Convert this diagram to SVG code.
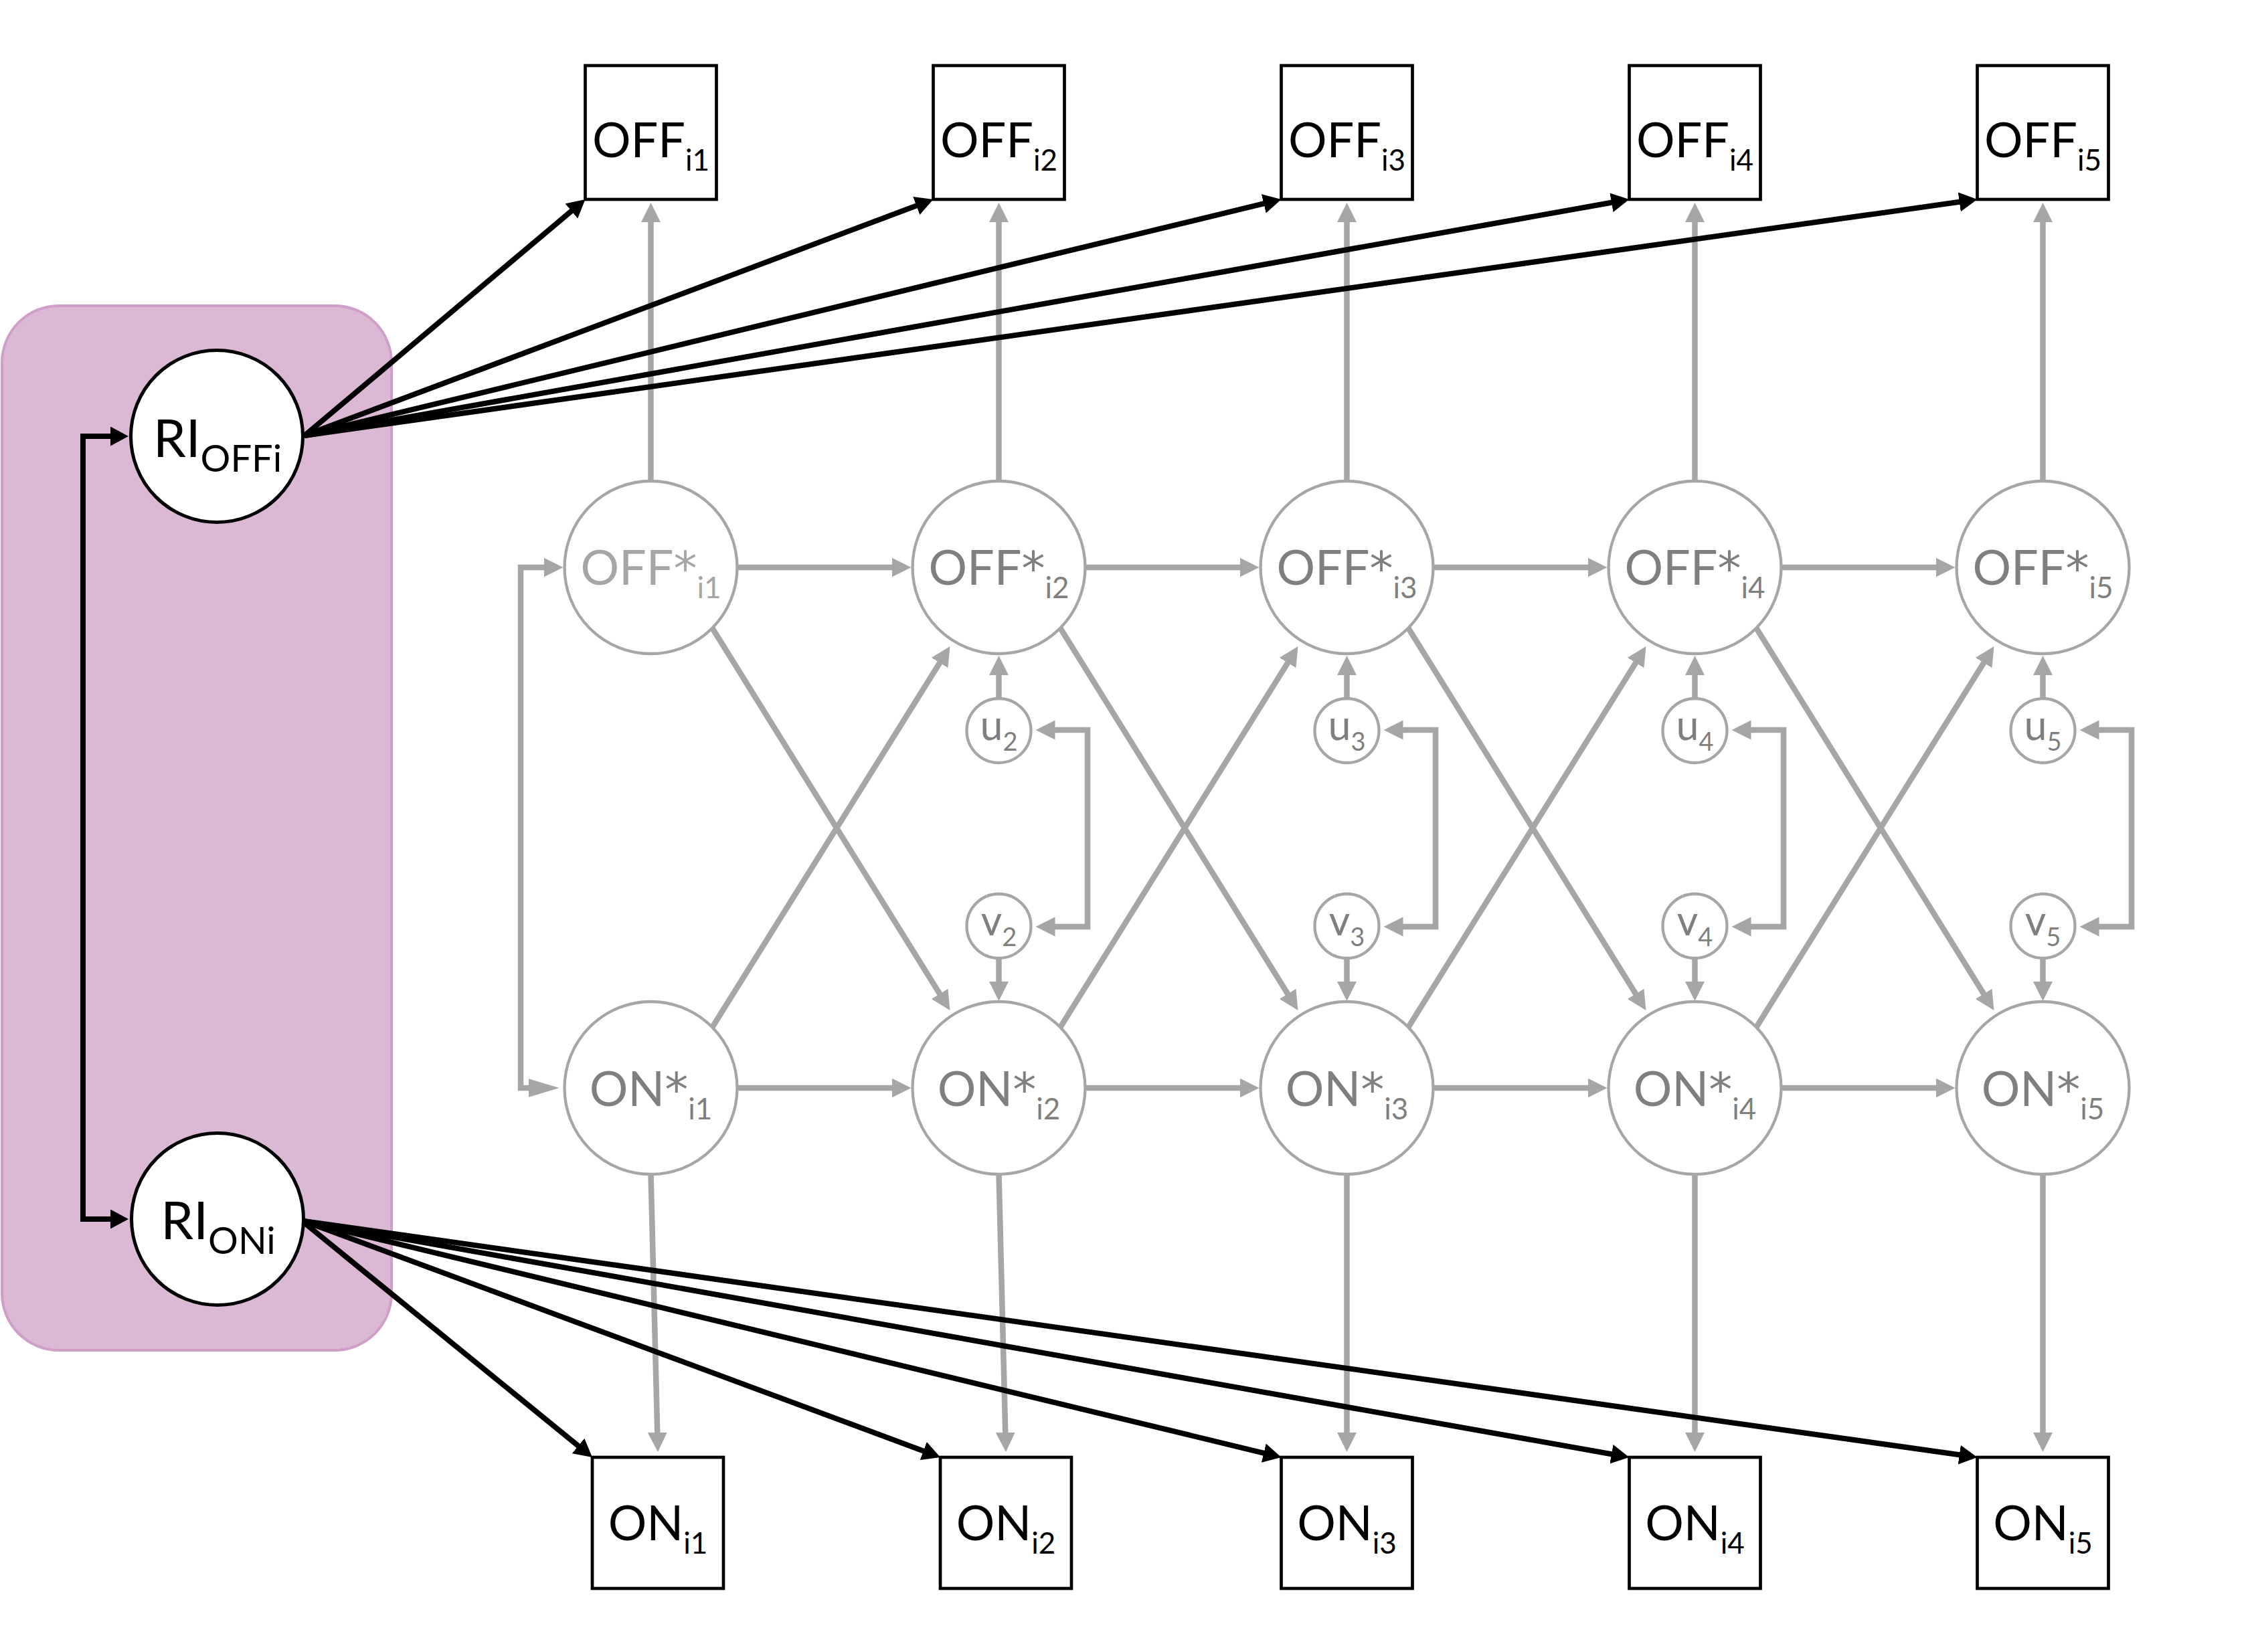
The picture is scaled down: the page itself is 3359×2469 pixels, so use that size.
<svg xmlns="http://www.w3.org/2000/svg" width="3359" height="2469" viewBox="0 0 3359 2469">
<defs>
<style>
text{font-family:Lato,"Open Sans","Liberation Sans",sans-serif;text-anchor:middle}
.lbl{font-size:72px}
.sub{font-size:44px}
.ast{font-family:"DejaVu Sans",sans-serif;font-size:70px}
.ri{font-size:78px}
.risub{font-size:56px}
.uv{font-size:61px}
.uvsub{font-size:38px}
.dark{fill:#000}
.grey{fill:#7f7f7f}
.light{fill:#a6a6a6}
.gc{fill:#fff;stroke:#a6a6a6;stroke-width:4.3}
.bc{fill:#fff;stroke:#000;stroke-width:5}
.box{fill:#fff;stroke:#000;stroke-width:4.7}
.gl{fill:none;stroke:#a6a6a6;stroke-width:8.5;stroke-linejoin:miter;marker-end:url(#ag)}
.gl2{fill:none;stroke:#a6a6a6;stroke-width:8.5;stroke-linejoin:miter;marker-start:url(#ag);marker-end:url(#ag)}
.bl{fill:none;stroke:#000;stroke-width:8;marker-end:url(#ab)}
.bl2{fill:none;stroke:#000;stroke-width:8;stroke-linejoin:miter;marker-start:url(#ab);marker-end:url(#ab)}
</style>
<marker id="ag" markerUnits="userSpaceOnUse" markerWidth="30" markerHeight="30" refX="9" refY="14.5" orient="auto-start-reverse" viewBox="0 0 30 30"><path d="M0,0 L29,14.5 L0,29 Z" fill="#a6a6a6"/></marker>
<marker id="agL" markerUnits="userSpaceOnUse" markerWidth="48" markerHeight="30" refX="26" refY="14" orient="auto-start-reverse" viewBox="0 0 48 30"><path d="M0,0 L46,14 L0,28 Z" fill="#a6a6a6"/></marker>
<marker id="ab" markerUnits="userSpaceOnUse" markerWidth="30" markerHeight="30" refX="7" refY="14.5" orient="auto-start-reverse" viewBox="0 0 30 30"><path d="M0,0 L27,14.5 L0,29 Z" fill="#000"/></marker>
</defs>
<rect width="3359" height="2469" fill="#fff"/>
<g id="ri-group-bg">
<rect x="3" y="457" width="582" height="1561" rx="85" ry="85" fill="#dbb8d3" stroke="#cf9fc8" stroke-width="4"/>
</g>
<g id="connectors">
<path class="gl" d="M972.5,719 V323"/>
<path class="gl" d="M1492.5,719 V323"/>
<path class="gl" d="M2012.5,719 V323"/>
<path class="gl" d="M2532.5,719 V323"/>
<path class="gl" d="M3052.5,719 V323"/>
<path class="gl" d="M972.5,1755 L982.5,2150"/>
<path class="gl" d="M1492.5,1755 L1502.5,2150"/>
<path class="gl" d="M2012.5,1755 V2150"/>
<path class="gl" d="M2532.5,1755 V2150"/>
<path class="gl" d="M3052.5,1755 V2150"/>
<path class="gl" d="M1101.5,848 H1341.5"/>
<path class="gl" d="M1621.5,848 H1861.5"/>
<path class="gl" d="M2141.5,848 H2381.5"/>
<path class="gl" d="M2661.5,848 H2901.5"/>
<path class="gl" d="M1101.5,1626 H1341.5"/>
<path class="gl" d="M1621.5,1626 H1861.5"/>
<path class="gl" d="M2141.5,1626 H2381.5"/>
<path class="gl" d="M2661.5,1626 H2901.5"/>
<path class="gl" d="M778,1237 V848 H821.5"/>
<path d="M778,1237 V1626 H815.5" fill="none" stroke="#a6a6a6" stroke-width="8.5" marker-end="url(#agL)"/>
<path class="gl" d="M1064.5,939 L1408.9,1493"/>
<path class="gl" d="M1584.5,939 L1928.9,1493"/>
<path class="gl" d="M2104.5,939 L2448.9,1493"/>
<path class="gl" d="M2624.5,939 L2968.9,1493"/>
<path class="gl" d="M1064.5,1535 L1408.9,983"/>
<path class="gl" d="M1584.5,1535 L1928.9,983"/>
<path class="gl" d="M2104.5,1535 L2448.9,983"/>
<path class="gl" d="M2624.5,1535 L2968.9,983"/>
<path class="gl" d="M1492.5,1044 V1000"/>
<path class="gl" d="M2012.5,1044 V1000"/>
<path class="gl" d="M2532.5,1044 V1000"/>
<path class="gl" d="M3052.5,1044 V1000"/>
<path class="gl" d="M1492.5,1432 V1476"/>
<path class="gl" d="M2012.5,1432 V1476"/>
<path class="gl" d="M2532.5,1432 V1476"/>
<path class="gl" d="M3052.5,1432 V1476"/>
<path class="gl2" d="M1567.5,1091 H1625 V1385 H1567.5"/>
<path class="gl2" d="M2087.5,1091 H2145 V1385 H2087.5"/>
<path class="gl2" d="M2607.5,1091 H2665 V1385 H2607.5"/>
<path class="gl2" d="M3127.5,1091 H3185 V1385 H3127.5"/>
<path class="bl2" d="M172,652 H124 V1822 H172"/>
<path class="bl" d="M455,651 L859.2,310.9"/>
<path class="bl" d="M455,651 L1375.8,305.0"/>
<path class="bl" d="M455,651 L1895.1,302.7"/>
<path class="bl" d="M455,651 L2414.8,301.5"/>
<path class="bl" d="M455,651 L2934.7,300.8"/>
<path class="bl" d="M454,1827 L869.5,2165.3"/>
<path class="bl" d="M454,1825 L1386.3,2171.0"/>
<path class="bl" d="M454,1825 L1895.1,2173.3"/>
<path class="bl" d="M454,1825 L2414.8,2174.5"/>
<path class="bl" d="M454,1825 L2934.7,2175.2"/>
</g>
<g id="RI_OFFi"><circle class="bc" cx="324" cy="652" r="128.5"/><text class="dark ri" x="325" y="683">RI<tspan class="risub" dy="22">OFFi</tspan></text></g>
<g id="RI_ONi"><circle class="bc" cx="325" cy="1822" r="128.5"/><text class="dark ri" x="326" y="1852">RI<tspan class="risub" dy="22">ONi</tspan></text></g>
<g id="OFF_i1"><rect class="box" x="874.5" y="98" width="196" height="200"/><text class="dark lbl" x="972.5" y="235">OFF<tspan class="sub" dy="20">i1</tspan></text></g>
<g id="OFF_i2"><rect class="box" x="1394.5" y="98" width="196" height="200"/><text class="dark lbl" x="1492.5" y="235">OFF<tspan class="sub" dy="20">i2</tspan></text></g>
<g id="OFF_i3"><rect class="box" x="1914.5" y="98" width="196" height="200"/><text class="dark lbl" x="2012.5" y="235">OFF<tspan class="sub" dy="20">i3</tspan></text></g>
<g id="OFF_i4"><rect class="box" x="2434.5" y="98" width="196" height="200"/><text class="dark lbl" x="2532.5" y="235">OFF<tspan class="sub" dy="20">i4</tspan></text></g>
<g id="OFF_i5"><rect class="box" x="2954.5" y="98" width="196" height="200"/><text class="dark lbl" x="3052.5" y="235">OFF<tspan class="sub" dy="20">i5</tspan></text></g>
<g id="ON_i1"><rect class="box" x="885" y="2178" width="196" height="196"/><text class="dark lbl" x="983" y="2302">ON<tspan class="sub" dy="20">i1</tspan></text></g>
<g id="ON_i2"><rect class="box" x="1405" y="2178" width="196" height="196"/><text class="dark lbl" x="1503" y="2302">ON<tspan class="sub" dy="20">i2</tspan></text></g>
<g id="ON_i3"><rect class="box" x="1914.5" y="2178" width="196" height="196"/><text class="dark lbl" x="2012.5" y="2302">ON<tspan class="sub" dy="20">i3</tspan></text></g>
<g id="ON_i4"><rect class="box" x="2434.5" y="2178" width="196" height="196"/><text class="dark lbl" x="2532.5" y="2302">ON<tspan class="sub" dy="20">i4</tspan></text></g>
<g id="ON_i5"><rect class="box" x="2954.5" y="2178" width="196" height="196"/><text class="dark lbl" x="3052.5" y="2302">ON<tspan class="sub" dy="20">i5</tspan></text></g>
<g id="OFFstar_i1"><circle class="gc" cx="972.5" cy="848" r="129"/><text class="light lbl" x="972.5" y="874">OFF<tspan class="ast">*</tspan><tspan class="sub" dy="20">i1</tspan></text></g>
<g id="OFFstar_i2"><circle class="gc" cx="1492.5" cy="848" r="129"/><text class="grey lbl" x="1492.5" y="874">OFF<tspan class="ast">*</tspan><tspan class="sub" dy="20">i2</tspan></text></g>
<g id="OFFstar_i3"><circle class="gc" cx="2012.5" cy="848" r="129"/><text class="grey lbl" x="2012.5" y="874">OFF<tspan class="ast">*</tspan><tspan class="sub" dy="20">i3</tspan></text></g>
<g id="OFFstar_i4"><circle class="gc" cx="2532.5" cy="848" r="129"/><text class="grey lbl" x="2532.5" y="874">OFF<tspan class="ast">*</tspan><tspan class="sub" dy="20">i4</tspan></text></g>
<g id="OFFstar_i5"><circle class="gc" cx="3052.5" cy="848" r="129"/><text class="grey lbl" x="3052.5" y="874">OFF<tspan class="ast">*</tspan><tspan class="sub" dy="20">i5</tspan></text></g>
<g id="ONstar_i1"><circle class="gc" cx="972.5" cy="1626" r="129"/><text class="grey lbl" x="972.5" y="1653">ON<tspan class="ast">*</tspan><tspan class="sub" dy="20">i1</tspan></text></g>
<g id="ONstar_i2"><circle class="gc" cx="1492.5" cy="1626" r="129"/><text class="grey lbl" x="1492.5" y="1653">ON<tspan class="ast">*</tspan><tspan class="sub" dy="20">i2</tspan></text></g>
<g id="ONstar_i3"><circle class="gc" cx="2012.5" cy="1626" r="129"/><text class="grey lbl" x="2012.5" y="1653">ON<tspan class="ast">*</tspan><tspan class="sub" dy="20">i3</tspan></text></g>
<g id="ONstar_i4"><circle class="gc" cx="2532.5" cy="1626" r="129"/><text class="grey lbl" x="2532.5" y="1653">ON<tspan class="ast">*</tspan><tspan class="sub" dy="20">i4</tspan></text></g>
<g id="ONstar_i5"><circle class="gc" cx="3052.5" cy="1626" r="129"/><text class="grey lbl" x="3052.5" y="1653">ON<tspan class="ast">*</tspan><tspan class="sub" dy="20">i5</tspan></text></g>
<g id="u2"><circle class="gc" cx="1492.5" cy="1092" r="48"/><text class="grey uv" x="1492.5" y="1106">u<tspan class="uvsub" dy="16">2</tspan></text></g>
<g id="u3"><circle class="gc" cx="2012.5" cy="1092" r="48"/><text class="grey uv" x="2012.5" y="1106">u<tspan class="uvsub" dy="16">3</tspan></text></g>
<g id="u4"><circle class="gc" cx="2532.5" cy="1092" r="48"/><text class="grey uv" x="2532.5" y="1106">u<tspan class="uvsub" dy="16">4</tspan></text></g>
<g id="u5"><circle class="gc" cx="3052.5" cy="1092" r="48"/><text class="grey uv" x="3052.5" y="1106">u<tspan class="uvsub" dy="16">5</tspan></text></g>
<g id="v2"><circle class="gc" cx="1492.5" cy="1384" r="48"/><text class="grey uv" x="1492.5" y="1398">v<tspan class="uvsub" dy="16">2</tspan></text></g>
<g id="v3"><circle class="gc" cx="2012.5" cy="1384" r="48"/><text class="grey uv" x="2012.5" y="1398">v<tspan class="uvsub" dy="16">3</tspan></text></g>
<g id="v4"><circle class="gc" cx="2532.5" cy="1384" r="48"/><text class="grey uv" x="2532.5" y="1398">v<tspan class="uvsub" dy="16">4</tspan></text></g>
<g id="v5"><circle class="gc" cx="3052.5" cy="1384" r="48"/><text class="grey uv" x="3052.5" y="1398">v<tspan class="uvsub" dy="16">5</tspan></text></g>
</svg>
